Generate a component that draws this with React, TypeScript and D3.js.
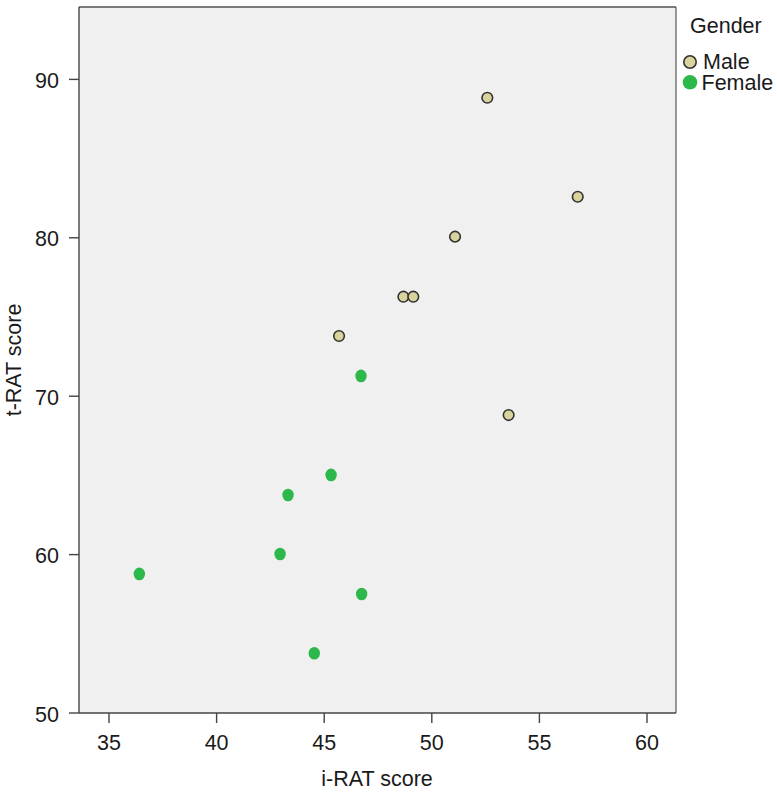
import React from "react";
import * as d3 from "d3";

const maleX = [52.58, 56.78, 51.08, 48.68, 49.14, 53.57, 45.69];
const maleY = [88.84, 82.59, 80.07, 76.28, 76.28, 68.81, 73.8];
const femaleX = [46.71, 45.32, 43.32, 42.95, 36.41, 46.74, 44.54];
const femaleY = [71.28, 65.03, 63.76, 60.04, 58.78, 57.51, 53.77];
const xTicks = [35, 40, 45, 50, 55, 60];
const yTicks = [50, 60, 70, 80, 90];
const groups = ["Male", "Female"];

const W = 777;
const H = 793;
const left = 79;
const right = 676;
const top = 7;
const bottom = 713;

export default function App() {
  const x = d3.scaleLinear().domain([35, 60]).range([109, 647]);
  const y = d3.scaleLinear().domain([50, 90]).range([713, 79.4]);
  const font = "'Liberation Sans', Arial, Helvetica, sans-serif";
  const textColor = "#1a1a1a";
  const maleFill = "#d9d49e";
  const femaleFill = "#2db84b";
  const fs = 21.5;
  const male = maleX.map((v, i) => ({ x: v, y: maleY[i] }));
  const female = femaleX.map((v, i) => ({ x: v, y: femaleY[i] }));
  return (
    <svg width={W} height={H} style={{ position: "absolute", left: 0, top: 0 }} fontFamily={font}>
      <rect x={0} y={0} width={W} height={H} fill="#ffffff" />
      <rect x={left} y={top} width={right - left} height={bottom - top} fill="#f0f0f0" />
      <line x1={left} x2={right} y1={top} y2={top} stroke="#7a7a7a" strokeWidth={2} />
      <line x1={right} x2={right} y1={top} y2={bottom} stroke="#555" strokeWidth={1.2} />
      <line x1={left} x2={left} y1={top} y2={bottom} stroke="#444" strokeWidth={1.4} />
      <line x1={left} x2={right} y1={bottom} y2={bottom} stroke="#444" strokeWidth={1.4} />
      {xTicks.map((t) => (
        <g key={"x" + t}>
          <line x1={x(t)} x2={x(t)} y1={bottom} y2={bottom + 10} stroke="#444" strokeWidth={1.4} />
          <text x={x(t)} y={750} fontSize={fs} textAnchor="middle" fill={textColor}>
            {t}
          </text>
        </g>
      ))}
      {yTicks.map((t) => (
        <g key={"y" + t}>
          <line x1={left - 10} x2={left} y1={y(t)} y2={y(t)} stroke="#444" strokeWidth={1.4} />
          <text x={59} y={y(t) + 8.5} fontSize={fs} textAnchor="end" fill={textColor}>
            {t}
          </text>
        </g>
      ))}
      <text x={377} y={786} fontSize={fs} textAnchor="middle" fill={textColor}>
        i-RAT score
      </text>
      <text
        transform={`translate(21, ${(top + bottom) / 2}) rotate(-90)`}
        fontSize={fs}
        textAnchor="middle"
        fill={textColor}
      >
        t-RAT score
      </text>
      {male.map((d, i) => (
        <circle key={"m" + i} cx={x(d.x)} cy={y(d.y)} r={5.3} fill={maleFill} stroke="#333" strokeWidth={1.6} />
      ))}
      {female.map((d, i) => (
        <ellipse key={"f" + i} cx={x(d.x)} cy={y(d.y)} rx={5.7} ry={6.3} fill={femaleFill} />
      ))}
      <text x={690} y={33} fontSize={fs} fill={textColor}>
        Gender
      </text>
      {groups.map((g, i) => (
        <g key={g}>
          {i === 0 ? (
            <circle cx={690} cy={62} r={6.2} fill={maleFill} stroke="#333" strokeWidth={1.6} />
          ) : (
            <circle cx={690} cy={82.3} r={7.3} fill={femaleFill} />
          )}
          <text x={i === 0 ? 703 : 701.5} y={i === 0 ? 68.5 : 90} fontSize={fs} fill={textColor}>
            {g}
          </text>
        </g>
      ))}
    </svg>
  );
}
